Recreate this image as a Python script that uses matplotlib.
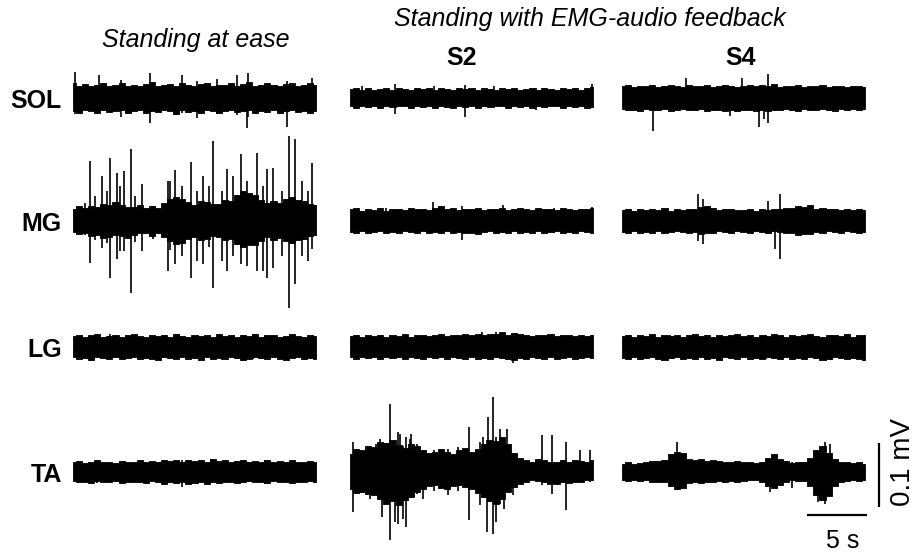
"""
EMG traces: standing at ease vs. standing with EMG-audio feedback (S2, S4).
Each trace is drawn from a hand-read envelope (upper/lower, uV, every 0.5 s)
plus a list of the larger spikes (time s, up uV, down uV).
"""
import matplotlib.pyplot as plt
import numpy as np

plt.rcParams["font.family"] = ["Liberation Sans", "DejaVu Sans"]

T_LEN = 20.25          # s, length of every trace
MUSCLES = ["SOL", "MG", "LG", "TA"]
CONDS = ["ease", "S2", "S4"]

# ---- envelopes (uV), one value every 0.5 s -------------------------------
SOL_EASE_TOP = [24, 19, 22, 18, 21, 23, 19, 20, 24, 18, 21, 19, 22, 25, 18, 20, 22, 19, 23, 20,
                18, 22, 24, 19, 21, 20, 23, 18, 22, 25, 19, 21, 23, 20, 18, 22, 24, 19, 21, 23, 20]
SOL_EASE_BOT = [20, 23, 18, 21, 24, 19, 22, 20, 18, 23, 21, 19, 24, 20, 22, 18, 21, 25, 19, 22,
                20, 23, 18, 21, 24, 20, 19, 22, 21, 18, 23, 20, 22, 19, 24, 21, 18, 22, 20, 23, 21]
MG_EASE_TOP = [19, 23, 20, 24, 22, 27, 25, 29, 25, 22, 22, 25, 20, 23, 20, 28, 34, 38, 34, 29,
               25, 31, 30, 26, 27, 33, 31, 40, 47, 43, 41, 33, 28, 31, 28, 35, 38, 33, 31, 27, 25]
MG_EASE_BOT = [17, 21, 19, 23, 22, 26, 25, 22, 23, 27, 22, 19, 19, 23, 19, 25, 31, 36, 34, 28,
               25, 29, 28, 24, 25, 30, 28, 36, 41, 38, 38, 31, 25, 29, 27, 32, 34, 30, 28, 24, 22]
LG_EASE_TOP = [17, 19, 16, 18, 20, 16, 17, 19, 16, 18, 20, 17, 16, 19, 17, 18, 16, 20, 17, 16,
               19, 17, 18, 16, 20, 17, 19, 16, 18, 17, 20, 16, 18, 19, 16, 17, 20, 17, 16, 18, 17]
LG_EASE_BOT = [16, 18, 17, 20, 16, 17, 19, 16, 18, 17, 16, 19, 17, 18, 20, 16, 17, 18, 16, 19,
               17, 20, 16, 18, 17, 19, 16, 17, 20, 18, 16, 17, 19, 16, 18, 20, 17, 16, 18, 17, 19]
TA_EASE_TOP = [15, 17, 14, 16, 18, 15, 16, 14, 17, 15, 16, 18, 15, 17, 16, 19, 17, 18, 16, 19,
               17, 18, 16, 20, 17, 18, 16, 17, 19, 15, 17, 16, 18, 15, 17, 16, 18, 15, 16, 17, 15]
TA_EASE_BOT = [14, 16, 15, 17, 14, 15, 16, 14, 17, 15, 16, 15, 17, 14, 16, 18, 16, 17, 15, 18,
               17, 16, 18, 15, 17, 16, 15, 17, 16, 14, 16, 15, 17, 14, 16, 15, 17, 15, 16, 14, 15]

SOL_S2_TOP = [14, 16, 13, 15, 13, 14, 16, 13, 15, 14, 13, 16, 14, 15, 13, 16, 14, 13, 15, 14,
              16, 13, 15, 14, 13, 16, 14, 15, 13, 14, 16, 13, 15, 14, 13, 15, 14, 16, 13, 15, 17]
SOL_S2_BOT = [13, 15, 12, 14, 13, 15, 12, 14, 13, 12, 15, 13, 14, 12, 15, 13, 14, 15, 12, 14,
              13, 15, 12, 14, 13, 12, 15, 13, 14, 12, 15, 13, 14, 12, 13, 15, 12, 14, 13, 15, 14]
MG_S2_TOP = [18, 20, 16, 19, 17, 20, 16, 18, 19, 17, 20, 18, 19, 17, 21, 24, 18, 20, 17, 19,
             18, 21, 17, 19, 18, 20, 17, 19, 21, 18, 17, 20, 18, 19, 17, 20, 18, 17, 19, 18, 21]
MG_S2_BOT = [17, 19, 16, 18, 17, 16, 19, 17, 18, 16, 17, 19, 16, 18, 17, 19, 16, 18, 17, 19,
             18, 20, 17, 16, 18, 17, 19, 16, 18, 17, 19, 16, 18, 17, 16, 19, 17, 18, 16, 17, 18]
LG_S2_TOP = [17, 19, 16, 18, 17, 19, 16, 18, 17, 20, 16, 18, 19, 17, 18, 20, 17, 19, 18, 20,
             19, 21, 18, 20, 21, 23, 19, 22, 20, 18, 17, 19, 18, 20, 17, 18, 19, 17, 18, 17, 19]
LG_S2_BOT = [16, 18, 15, 17, 16, 18, 16, 17, 15, 18, 16, 17, 18, 16, 17, 15, 18, 16, 17, 19,
             16, 18, 17, 19, 16, 17, 18, 20, 17, 18, 16, 17, 19, 16, 18, 17, 16, 18, 17, 16, 17]
TA_S2_TOP = [28, 36, 34, 40, 39, 47, 45, 50, 42, 38, 44, 40, 34, 30, 31, 36, 31, 28, 34, 38,
             31, 36, 44, 50, 48, 55, 44, 30, 22, 18, 16, 20, 19, 16, 16, 18, 16, 19, 17, 15, 19]
TA_S2_BOT = [27, 33, 31, 35, 36, 42, 50, 45, 52, 44, 39, 32, 27, 22, 20, 25, 27, 22, 20, 24,
             27, 33, 39, 46, 50, 42, 31, 24, 19, 15, 12, 14, 16, 18, 19, 16, 17, 15, 16, 13, 12]

SOL_S4_TOP = [18, 20, 17, 19, 18, 21, 17, 19, 20, 18, 17, 20, 18, 19, 21, 17, 18, 20, 19, 17,
              18, 21, 19, 20, 18, 22, 17, 19, 18, 20, 17, 19, 18, 20, 17, 19, 18, 17, 19, 18, 17]
SOL_S4_BOT = [17, 19, 18, 20, 17, 18, 19, 17, 20, 18, 17, 19, 18, 17, 20, 19, 18, 20, 19, 21,
              19, 18, 20, 19, 21, 18, 19, 17, 18, 20, 17, 18, 19, 17, 18, 20, 17, 18, 17, 19, 17]
MG_S4_TOP = [17, 19, 16, 18, 17, 19, 17, 20, 16, 18, 17, 19, 18, 22, 24, 20, 17, 19, 18, 17,
             17, 19, 16, 18, 17, 19, 18, 20, 20, 23, 22, 25, 19, 20, 18, 19, 17, 18, 17, 19, 17]
MG_S4_BOT = [17, 18, 16, 18, 17, 19, 16, 18, 17, 16, 17, 19, 17, 21, 19, 18, 16, 17, 18, 16,
             17, 18, 16, 17, 18, 16, 17, 19, 19, 22, 20, 21, 17, 18, 16, 17, 18, 16, 17, 18, 17]
LG_S4_TOP = [17, 19, 16, 18, 17, 20, 16, 18, 17, 19, 16, 18, 20, 17, 18, 16, 19, 17, 18, 20,
             17, 19, 16, 18, 17, 20, 18, 16, 19, 17, 18, 20, 17, 16, 19, 18, 17, 20, 16, 18, 19]
LG_S4_BOT = [17, 18, 16, 19, 17, 16, 18, 20, 17, 16, 18, 17, 19, 16, 18, 17, 20, 16, 17, 19,
             16, 18, 17, 19, 16, 17, 18, 16, 19, 17, 18, 16, 17, 20, 18, 16, 17, 19, 17, 18, 20]
TA_S4_TOP = [13, 15, 12, 14, 15, 17, 17, 19, 28, 32, 30, 20, 19, 21, 17, 18, 17, 16, 15, 17,
             16, 15, 14, 16, 22, 28, 20, 17, 14, 16, 16, 22, 34, 40, 30, 20, 16, 15, 14, 15, 13]
TA_S4_BOT = [13, 14, 12, 14, 13, 15, 15, 16, 22, 27, 25, 17, 16, 17, 16, 15, 14, 15, 14, 16,
             14, 13, 13, 15, 22, 25, 20, 16, 13, 14, 14, 22, 36, 44, 38, 22, 16, 14, 13, 14, 12]

# ---- larger spikes: (time s, up uV, down uV) ---------------------------
SOL_EASE_SPK = [(0.2, 41, 25), (2.2, 36, 22), (4.0, 28, 30), (6.4, 39, 39), (9.1, 36, 24),
                (10.3, 26, 31), (12.0, 30, 25), (13.7, 36, 26), (14.5, 24, 47), (14.6, 39, 30),
                (17.8, 26, 45), (19.9, 31, 24)]
MG_EASE_SPK = [(1.0, 28, 22), (1.4, 94, 66), (1.8, 39, 30), (2.4, 70, 42), (2.8, 47, 35),
               (3.1, 98, 89), (3.7, 75, 59), (3.9, 55, 47), (4.25, 78, 47), (4.8, 112, 112),
               (5.2, 39, 33), (5.75, 58, 47), (6.7, 24, 28), (7.9, 62, 78), (8.1, 62, 45),
               (8.5, 80, 67), (9.1, 55, 55), (9.8, 92, 89), (10.3, 47, 62), (10.8, 70, 67),
               (11.3, 55, 40), (11.7, 125, 105), (12.4, 47, 62), (12.8, 81, 78),
               (13.3, 70, 55), (14.0, 105, 67), (14.5, 62, 70), (15.3, 106, 78),
               (15.8, 55, 78), (16.2, 81, 89), (16.7, 83, 73), (17.4, 47, 55),
               (18.0, 133, 136), (18.5, 128, 98), (19.1, 62, 55), (19.6, 47, 62),
               (19.9, 91, 44)]
LG_EASE_SPK = [(3.1, 21, 18), (8.8, 20, 19), (12.4, 18, 21), (15.0, 21, 18)]
TA_EASE_SPK = [(2.0, 19, 17), (9.1, 18, 23), (11.5, 20, 17), (16.0, 19, 18)]

SOL_S2_SPK = [(1.0, 18, 14), (3.75, 22, 25), (7.0, 19, 15), (9.6, 20, 30), (12.0, 19, 15),
              (15.5, 15, 18), (20.2, 22, 10)]
MG_S2_SPK = [(3.0, 20, 18), (6.9, 30, 18), (9.3, 23, 30), (12.75, 25, 18), (17.0, 20, 19),
             (20.2, 22, 10)]
LG_S2_SPK = [(11.0, 23, 17), (12.2, 23, 17), (12.8, 22, 18), (13.6, 17, 25)]
TA_S2_SPK = [(0.28, 47, 62), (1.7, 34, 42), (2.2, 44, 30), (2.5, 52, 35), (2.7, 30, 70),
             (3.3, 106, 106), (3.75, 45, 78), (4.0, 62, 81), (4.2, 60, 50), (4.4, 40, 73),
             (4.7, 55, 86), (5.0, 52, 40), (5.1, 59, 30), (5.6, 44, 35), (6.1, 30, 42),
             (7.0, 34, 30), (8.2, 36, 36), (9.0, 39, 30), (9.9, 70, 75), (10.8, 47, 52),
             (11.1, 55, 40), (11.4, 50, 94), (11.5, 86, 40), (11.9, 117, 97), (12.2, 55, 78),
             (12.5, 67, 50), (12.8, 50, 58), (13.1, 67, 20), (13.6, 30, 36), (16.0, 58, 20),
             (16.8, 58, 34), (18.0, 47, 59), (19.2, 34, 16), (20.0, 34, 16)]

SOL_S4_SPK = [(2.6, 15, 52), (5.3, 31, 18), (9.0, 18, 28), (10.0, 31, 18), (11.4, 18, 45),
              (11.8, 18, 33), (12.2, 38, 39)]
MG_S4_SPK = [(6.35, 42, 31), (6.75, 34, 36), (12.2, 31, 18), (12.75, 15, 44), (13.2, 42, 59)]
LG_S4_SPK = [(4.0, 19, 18), (12.0, 19, 19), (17.5, 18, 20)]
TA_S4_SPK = [(4.6, 47, 28), (12.3, 20, 31), (14.2, 16, 25), (16.3, 30, 47), (16.9, 47, 50),
             (17.3, 44, 20)]

TRACES = {
    ("SOL", "ease"): (SOL_EASE_TOP, SOL_EASE_BOT, SOL_EASE_SPK),
    ("MG", "ease"): (MG_EASE_TOP, MG_EASE_BOT, MG_EASE_SPK),
    ("LG", "ease"): (LG_EASE_TOP, LG_EASE_BOT, LG_EASE_SPK),
    ("TA", "ease"): (TA_EASE_TOP, TA_EASE_BOT, TA_EASE_SPK),
    ("SOL", "S2"): (SOL_S2_TOP, SOL_S2_BOT, SOL_S2_SPK),
    ("MG", "S2"): (MG_S2_TOP, MG_S2_BOT, MG_S2_SPK),
    ("LG", "S2"): (LG_S2_TOP, LG_S2_BOT, LG_S2_SPK),
    ("TA", "S2"): (TA_S2_TOP, TA_S2_BOT, TA_S2_SPK),
    ("SOL", "S4"): (SOL_S4_TOP, SOL_S4_BOT, SOL_S4_SPK),
    ("MG", "S4"): (MG_S4_TOP, MG_S4_BOT, MG_S4_SPK),
    ("LG", "S4"): (LG_S4_TOP, LG_S4_BOT, LG_S4_SPK),
    ("TA", "S4"): (TA_S4_TOP, TA_S4_BOT, TA_S4_SPK),
}

SCALE_T = 5       # s
SCALE_UV = 100    # uV = 0.1 mV

# ---- layout (pixels of the 915 x 556 canvas) ---------------------------
W, H = 915, 556
COL_X0 = {"ease": 73, "S2": 350, "S4": 622}
ROW_YC = {"SOL": 98, "MG": 221, "LG": 347, "TA": 472}
PX_PER_S = 12.0
PX_PER_UV = 0.64
AX_H = 220


def fx(x):
    return x / W


def fy(y):
    return 1 - y / H


fig = plt.figure(figsize=(W / 100, H / 100), dpi=100)

axes = {}
for (mus, cond), (top, bot, spk) in TRACES.items():
    x0, yc = COL_X0[cond], ROW_YC[mus]
    ax = fig.add_axes([fx(x0), fy(yc + AX_H / 2), T_LEN * PX_PER_S / W, AX_H / H])
    lim = AX_H / 2 / PX_PER_UV
    ax.set_xlim(0, T_LEN)
    ax.set_ylim(-lim, lim)
    ax.axis("off")
    t = np.linspace(0, T_LEN, len(top))
    ax.fill_between(t, np.array(top), -np.array(bot), step="mid",
                    color="black", lw=0.6, ec="black")
    st = [s[0] for s in spk]
    ax.vlines(st, [-s[2] for s in spk], [s[1] for s in spk], color="black", lw=1.2)
    axes[(mus, cond)] = ax

# scale bars, drawn in the S4 / TA axes units
ax = axes[("TA", "S4")]
ax.plot([15.4, 15.4 + SCALE_T], [-67, -67], color="black", lw=1.6, clip_on=False,
        solid_capstyle="butt")
ax.plot([21.4, 21.4], [-55, -55 + SCALE_UV], color="black", lw=1.6, clip_on=False,
        solid_capstyle="butt")

# text
for mus in MUSCLES:
    fig.text(fx(62), fy(ROW_YC[mus] + 3), mus, ha="right", va="center",
             fontsize=18, fontweight="bold")
fig.text(fx(196), fy(40), "Standing at ease", ha="center", va="center",
         fontsize=18, style="italic")
fig.text(fx(590), fy(19), "Standing with EMG-audio feedback", ha="center", va="center",
         fontsize=18, style="italic")
fig.text(fx(462), fy(58), "S2", ha="center", va="center", fontsize=18, fontweight="bold")
fig.text(fx(741), fy(58), "S4", ha="center", va="center", fontsize=18, fontweight="bold")
fig.text(fx(843), fy(541), f"{SCALE_T} s", ha="center", va="center", fontsize=18)
fig.text(fx(903), fy(462), f"{SCALE_UV / 1000:g} mV", ha="center", va="center",
         fontsize=20, rotation=90)

fig.savefig("out.png", dpi=100)
